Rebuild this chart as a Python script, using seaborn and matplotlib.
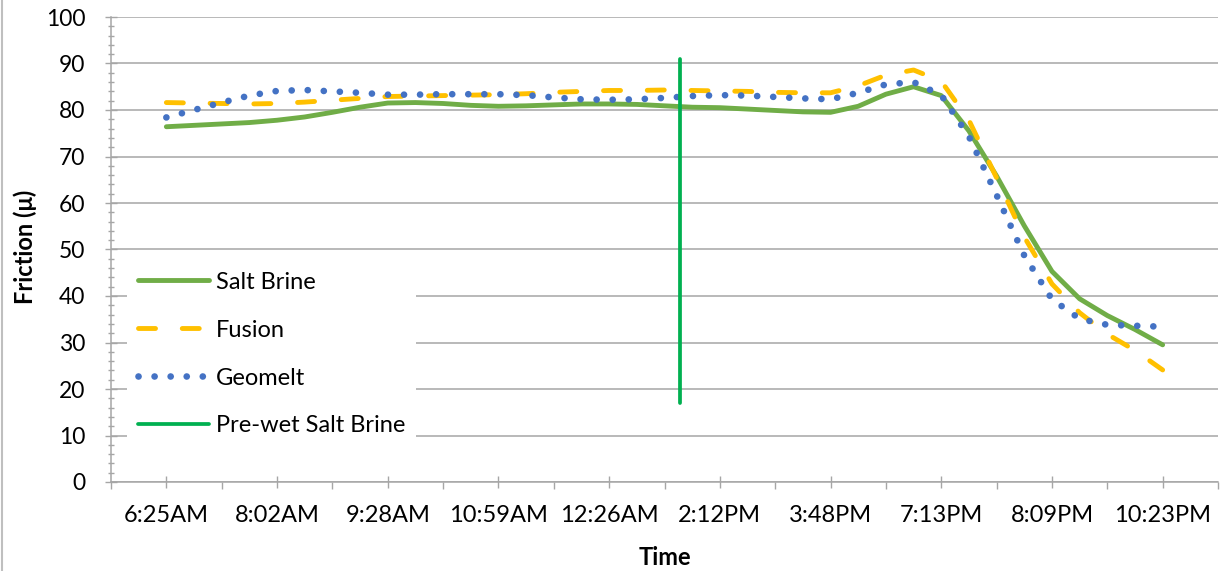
import numpy as np
import pandas as pd
import matplotlib
matplotlib.use("Agg")
import matplotlib.pyplot as plt
import seaborn as sns
from matplotlib.ticker import MultipleLocator, FixedLocator
from matplotlib.lines import Line2D

# ---------------- data ----------------
time_labels = ["6:25AM", "8:02AM", "9:28AM", "10:59AM", "12:26AM",
               "2:12PM", "3:48PM", "7:13PM", "8:09PM", "10:23PM"]

# sample positions along the time axis (in label units, 4 samples per label step)
sample_pos = list(np.arange(37) / 4.0)

salt_brine = [76.4, 76.7, 77.0, 77.3, 77.8, 78.5, 79.5, 80.6, 81.5, 81.6,
              81.4, 81.0, 80.8, 80.9, 81.1, 81.3, 81.3, 81.2, 80.9, 80.6,
              80.5, 80.2, 79.9, 79.6, 79.5, 80.8, 83.4, 85.0, 83.1, 75.5,
              65.8, 55.1, 45.3, 39.4, 35.8, 32.8, 29.5]

fusion = [81.6, 81.5, 81.4, 81.3, 81.4, 81.7, 82.1, 82.5, 82.9, 83.0,
          83.1, 83.2, 83.3, 83.5, 83.8, 84.0, 84.2, 84.2, 84.3, 84.2,
          84.1, 84.0, 83.8, 83.7, 83.7, 85.2, 87.5, 88.6, 86.2, 77.8,
          65.4, 52.7, 42.6, 36.4, 31.8, 28.3, 24.1]

geomelt = [78.4, 80.0, 81.6, 83.1, 84.1, 84.3, 84.0, 83.7, 83.3, 83.3,
           83.4, 83.4, 83.4, 83.2, 82.7, 82.3, 82.2, 82.3, 82.6, 83.0,
           83.2, 83.1, 82.8, 82.5, 82.3, 83.7, 85.5, 86.0, 83.2, 74.3,
           61.7, 48.7, 39.3, 35.1, 33.8, 33.6, 33.4]

prewet_x = [4.64, 4.64]
prewet_y = [17, 91]

series_names = ["Salt Brine", "Fusion", "Geomelt"]
df = pd.DataFrame({
    "pos": sample_pos * 3,
    "friction": salt_brine + fusion + geomelt,
    "series": sum([[n] * len(sample_pos) for n in series_names], []),
})
df_prewet = pd.DataFrame({"pos": prewet_x, "friction": prewet_y})

# ---------------- style ----------------
sns.set_theme(style="white")
plt.rcParams["font.family"] = ["Lato", "DejaVu Sans"]

W, H = 1221, 571
fig = plt.figure(figsize=(W / 100, H / 100), dpi=100)
L, R, T, B = 111, 1218, 17, 482
ax = fig.add_axes([L / W, (H - B) / H, (R - L) / W, (B - T) / H])

styles = {
    "Salt Brine": dict(color="#70AD47", lw=3.5, ls="-"),
    "Fusion": dict(color="#FFC000", lw=3.5, ls=(0, (3.5, 5.5))),
    "Geomelt": dict(color="#4472C4", lw=4.8, ls=(0, (0.01, 2.4))),
}

for name in series_names:
    st = styles[name]
    sns.lineplot(data=df[df["series"] == name], x="pos", y="friction",
                 color=st["color"], linewidth=st["lw"], ax=ax, label=name,
                 legend=False)
    line = ax.lines[-1]
    line.set_linestyle(st["ls"])
    line.set_dash_capstyle("round")
    line.set_solid_capstyle("round")
    line.set_solid_joinstyle("round")

sns.lineplot(data=df_prewet, x="pos", y="friction", estimator=None, sort=False,
             color="#00B050", linewidth=2.7, ax=ax, label="Pre-wet Salt Brine",
             legend=False)

# ---------------- axes ----------------
grid_c = "#A6A6A6"
ax.set_xlim(-0.5, 9.5)
ax.set_ylim(0, 100)
ax.set_xticks(range(len(time_labels)))
ax.set_xticklabels(time_labels)
ax.xaxis.set_minor_locator(FixedLocator(np.arange(-0.5, 9.6, 1.0)))
ax.yaxis.set_major_locator(MultipleLocator(10))
ax.yaxis.set_minor_locator(MultipleLocator(2))

ax.yaxis.grid(True, which="major", color=grid_c, lw=1.1)
ax.xaxis.grid(False)
ax.set_axisbelow(True)

for s in ["top", "right"]:
    ax.spines[s].set_visible(False)
for s in ["left", "bottom"]:
    ax.spines[s].set_color(grid_c)
    ax.spines[s].set_linewidth(1.1)

ax.tick_params(axis="x", which="major", direction="inout", length=9, width=1,
               color=grid_c, labelsize=17, pad=12, labelcolor="#000000")
ax.tick_params(axis="x", which="minor", direction="out", length=5, width=1,
               color=grid_c)
ax.tick_params(axis="y", which="major", direction="inout", length=9, width=1,
               color=grid_c, labelsize=16.5, pad=14, labelcolor="#000000")
ax.tick_params(axis="y", which="minor", direction="inout", length=5, width=1,
               color=grid_c)
ax.tick_params(bottom=True, left=True, which="both")

ax.set_xlabel("Time", fontsize=17, fontweight="bold", color="#000000")
ax.set_ylabel("Friction (μ)", fontsize=17, fontweight="bold", color="#000000")
ax.xaxis.set_label_coords(0.5, -0.137)
ax.yaxis.set_label_coords(-0.067, 0.505)

leg = ax.legend(loc="lower left", bbox_to_anchor=(0.0145, 0.075),
                borderaxespad=0, fontsize=17, frameon=True, fancybox=False,
                framealpha=1, facecolor="white", edgecolor="none",
                handlelength=3.0, handletextpad=0.3, labelspacing=1.14,
                borderpad=0.45)
for t in leg.get_texts():
    t.set_color("#000000")

# outer chart border (left edge visible)
fig.add_artist(Line2D([2 / W, 2 / W], [0, 1], transform=fig.transFigure,
                      color="#BFBFBF", lw=1.5))

fig.savefig("out.png", dpi=100)
